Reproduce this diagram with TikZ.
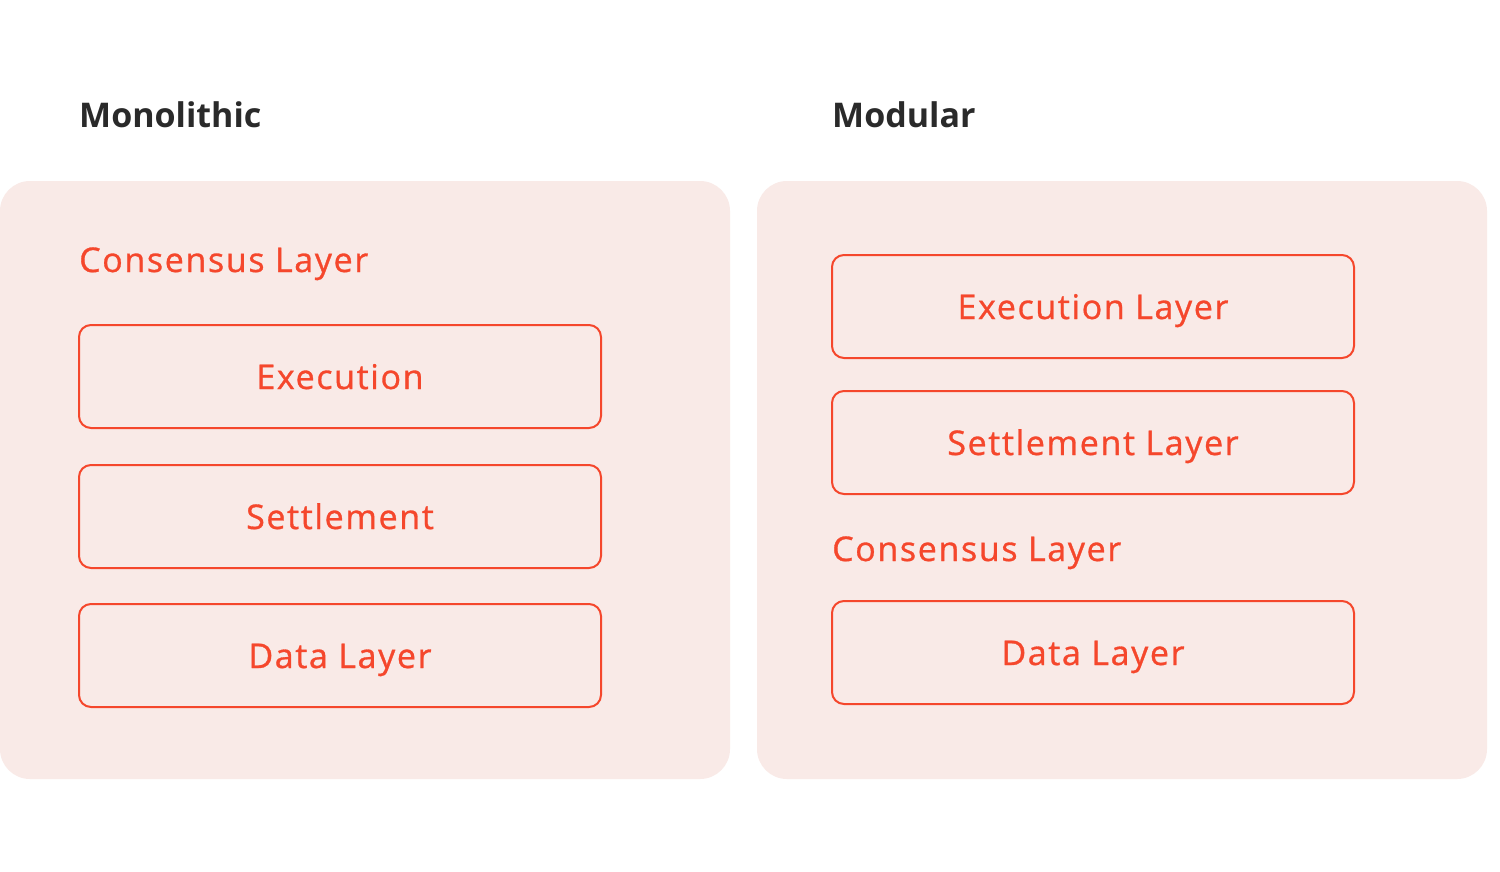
\documentclass[tikz,border=0pt]{standalone}
\usepackage{fontspec}
\setmainfont{Open Sans}
\newfontfamily\layerfont[LetterSpace=4.8,FakeBold=0.9]{Open Sans}
\newfontfamily\titlefont{Open Sans}
\definecolor{panelfill}{HTML}{F9EAE7}
\definecolor{accent}{HTML}{F5472C}
\definecolor{titlecol}{HTML}{2A2A2A}
\begin{document}
\begin{tikzpicture}[x=1pt,y=-1pt,
  panel/.style={fill=panelfill, draw=none, rounded corners=30pt},
  layerbox/.style={draw=accent, line width=2pt, rounded corners=12pt, fill=none},
  boxtext/.style={text=accent, font=\layerfont\fontsize{34}{40}\selectfont, anchor=base, inner sep=0pt},
  plaintext/.style={text=accent, font=\layerfont\fontsize{34}{40}\selectfont, anchor=base west, inner sep=0pt},
  titletext/.style={text=titlecol, font=\titlefont\fontsize{34}{40}\selectfont\bfseries, anchor=base west, inner sep=0pt}]
\useasboundingbox[fill=white] (0,0) rectangle (1500,871);
% panels
\path[panel] (0,181) rectangle (730,779);
\path[panel] (757,181) rectangle (1487,779);
% titles
\node[titletext] (tmono) at (79,127) {Monolithic};
\node[titletext] (tmod) at (832,127) {Modular};
% left panel
\node[plaintext] (lcons) at (79,272) {Consensus Layer};
\draw[layerbox] (79,325) rectangle (601,428);
\node[boxtext] (lexec) at (340,389) {Execution};
\draw[layerbox] (79,465) rectangle (601,568);
\node[boxtext] (lsett) at (340,529) {Settlement};
\draw[layerbox] (79,604) rectangle (601,707);
\node[boxtext] (ldata) at (340,668) {Data Layer};
% right panel
\draw[layerbox] (832,255) rectangle (1354,358);
\node[boxtext] (rexec) at (1093,319) {Execution Layer};
\draw[layerbox] (832,391) rectangle (1354,494);
\node[boxtext] (rsett) at (1093,455) {Settlement Layer};
\node[plaintext] (rcons) at (832,561) {Consensus Layer};
\draw[layerbox] (832,601) rectangle (1354,704);
\node[boxtext] (rdata) at (1093,665) {Data Layer};
\end{tikzpicture}
\end{document}
